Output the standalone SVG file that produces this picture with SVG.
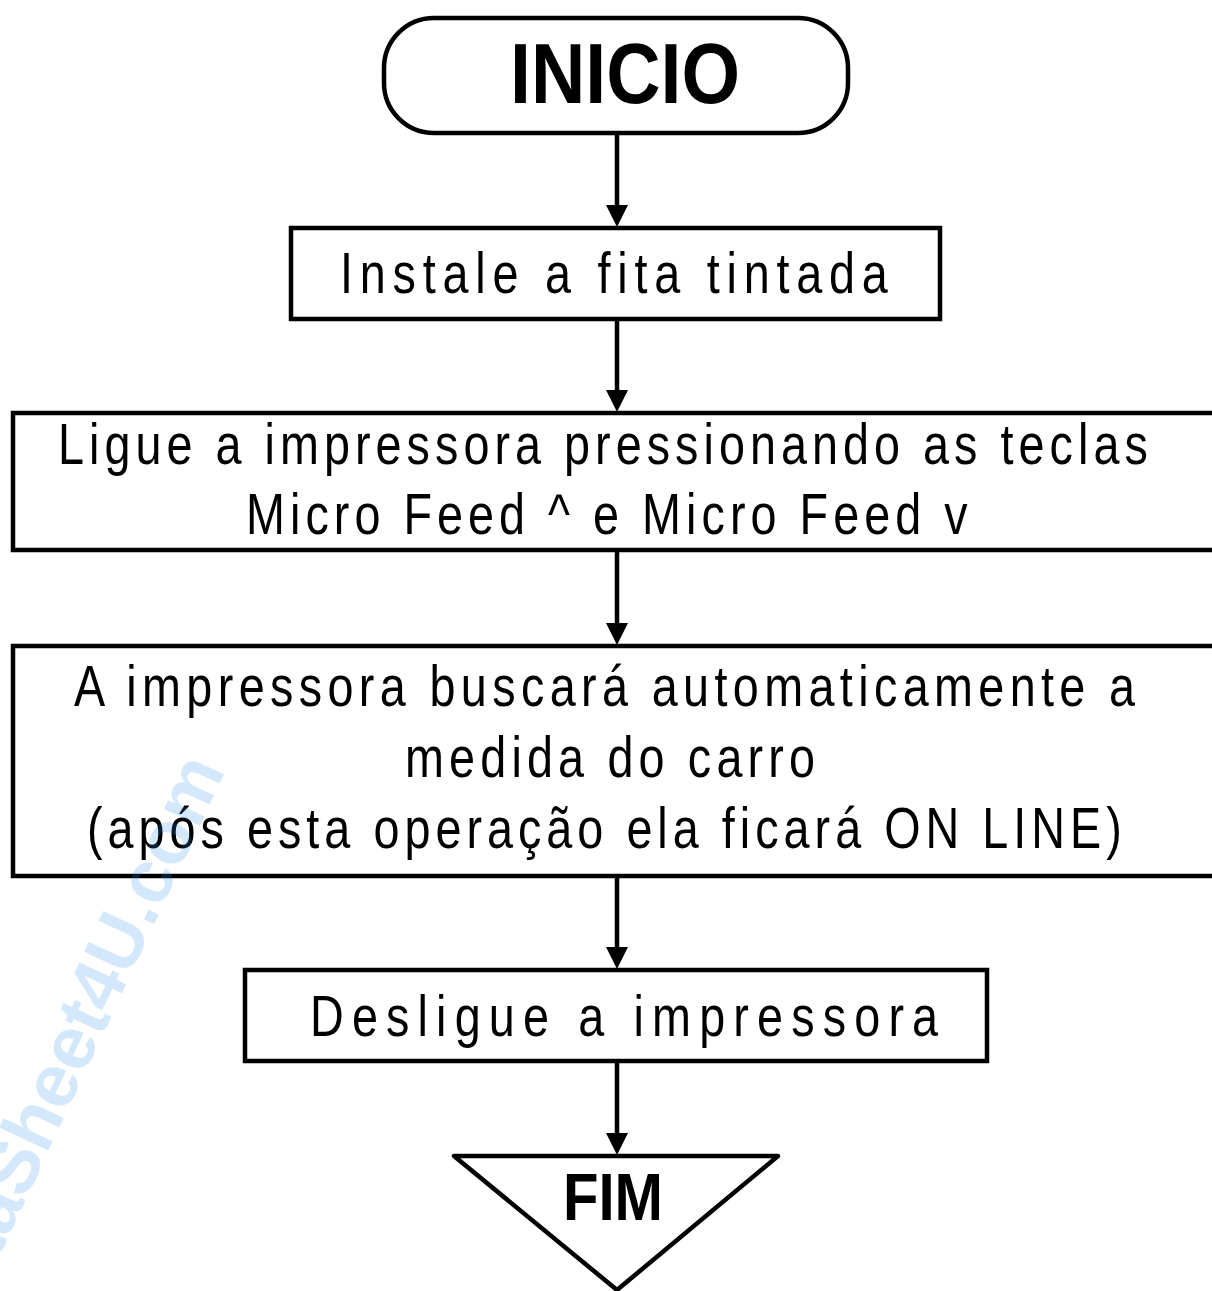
<svg xmlns="http://www.w3.org/2000/svg" width="1212" height="1291" viewBox="0 0 1212 1291">
<defs>
<style>
.box{fill:#fff;stroke:#000;stroke-width:4.5}
.t{font-family:"Liberation Sans",Arial,sans-serif;font-size:57px;fill:#000}
.b{font-family:"Liberation Sans",Arial,sans-serif;font-weight:bold;fill:#000}
.c{stroke:#000;stroke-width:4.5;fill:none}
.wm{font-family:"Liberation Sans",Arial,sans-serif;font-weight:bold;font-size:75px;fill:#2f8ff0;opacity:0.2}
</style>
<path id="arrowhead" d="M-11,-22 L11,-22 L0,0 z" fill="#000"/>
</defs>
<rect width="1212" height="1291" fill="#fff"/>
<g id="connectors">
<line class="c" x1="617" y1="134" x2="617" y2="206"/>
<use href="#arrowhead" x="617" y="227"/>
<line class="c" x1="617" y1="320" x2="617" y2="391"/>
<use href="#arrowhead" x="617" y="412"/>
<line class="c" x1="617" y1="551" x2="617" y2="624"/>
<use href="#arrowhead" x="617" y="645"/>
<line class="c" x1="617" y1="877" x2="617" y2="948"/>
<use href="#arrowhead" x="617" y="969"/>
<line class="c" x1="617" y1="1062" x2="617" y2="1134"/>
<use href="#arrowhead" x="617" y="1155"/>
</g>
<g id="inicio">
<rect class="box" x="384" y="18" width="464" height="115" rx="50" ry="50"/>
<text class="b" x="510" y="103" font-size="86" textLength="230" lengthAdjust="spacingAndGlyphs">INICIO</text>
</g>
<g id="instale">
<rect class="box" x="291" y="228" width="649" height="91"/>
<text class="t" transform="translate(340,293) scale(0.82,1)" textLength="668" lengthAdjust="spacing">Instale a fita tintada</text>
</g>
<g id="ligue">
<rect class="box" x="13" y="413" width="1212" height="137"/>
<text class="t" transform="translate(58,464) scale(0.82,1)" textLength="1329" lengthAdjust="spacing">Ligue a impressora pressionando as teclas</text>
<text class="t" transform="translate(246,534) scale(0.82,1)" textLength="880" lengthAdjust="spacing">Micro Feed ^ e Micro Feed v</text>
</g>
<g id="busca">
<rect class="box" x="13" y="646" width="1212" height="230"/>
<text class="t" transform="translate(74,706) scale(0.82,1)" textLength="1294" lengthAdjust="spacing">A impressora buscará automaticamente a</text>
<text class="t" transform="translate(405,777) scale(0.82,1)" textLength="500" lengthAdjust="spacing">medida do carro</text>
<text class="t" transform="translate(87,848) scale(0.82,1)" textLength="1262" lengthAdjust="spacing">(após esta operação ela ficará ON LINE)</text>
</g>
<g id="desligue">
<rect class="box" x="245" y="970" width="742" height="91"/>
<text class="t" transform="translate(310,1036) scale(0.82,1)" textLength="766" lengthAdjust="spacing">Desligue a impressora</text>
</g>
<g id="fim">
<polygon class="box" points="454,1156 778,1156 617,1290" stroke-linejoin="round"/>
<text class="b" x="563" y="1220" font-size="66" textLength="100" lengthAdjust="spacingAndGlyphs">FIM</text>
</g>
<text class="wm" transform="translate(226,770) rotate(-65)" text-anchor="end">DataSheet4U.com</text>
</svg>
